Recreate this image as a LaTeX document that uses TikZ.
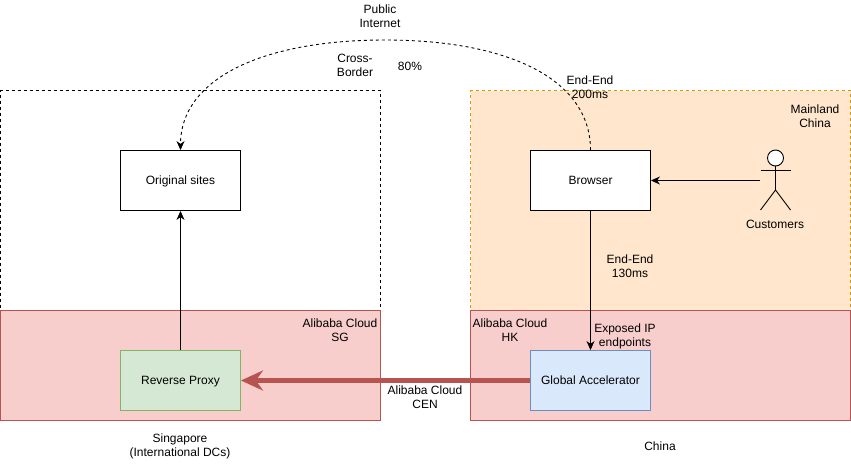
\documentclass[tikz,border=0pt]{standalone}
\usepackage{fontspec}
\setmainfont{Liberation Sans}
\usetikzlibrary{arrows.meta,positioning}
\definecolor{orangefill}{HTML}{FFE6CC}
\definecolor{orangeline}{HTML}{D79B00}
\definecolor{redfill}{HTML}{F8CECC}
\definecolor{redline}{HTML}{B85450}
\definecolor{greenfill}{HTML}{D5E8D4}
\definecolor{greenline}{HTML}{82B366}
\definecolor{bluefill}{HTML}{DAE8FC}
\definecolor{blueline}{HTML}{6C8EBF}
\tikzset{
  zone/.style={anchor=north west, inner sep=0pt, outer sep=0pt, line width=0.8pt},
  box/.style={draw=black, fill=white, line width=0.9pt, minimum width=120pt, minimum height=60pt, inner sep=0pt, text height=8.6pt, text depth=0pt, font=\fontsize{12}{14}\selectfont},
  txt/.style={align=center, inner sep=0pt, yshift=-0.8pt, font=\fontsize{12}{14}\selectfont},
  link/.style={-{Stealth[length=9pt,width=8pt]}, line width=0.9pt}
}
\begin{document}
\begin{tikzpicture}[x=1pt,y=-1pt]
\useasboundingbox (0,0) rectangle (851,471);
%draw the zones
\node[zone, draw=black, dashed, minimum width=380pt, minimum height=220pt] (overseas) at (0.5,90.5) {};
\node[zone, draw=orangeline, fill=orangefill, dashed, minimum width=380pt, minimum height=220pt] (mainland) at (470.5,90.5) {};
\node[zone, draw=redline, fill=redfill, minimum width=380pt, minimum height=110pt] (sg) at (0.5,310.5) {};
\node[zone, draw=redline, fill=redfill, minimum width=380pt, minimum height=110pt] (hk) at (470.5,310.5) {};

%draw the boxes
\node[box] (sites) at (180.5,180.5) {Original sites};
\node[box] (browser) at (590.5,180.5) {Browser};
\node[box, draw=greenline, fill=greenfill] (proxy) at (180.5,380.5) {Reverse Proxy};
\node[box, draw=blueline, fill=bluefill] (accel) at (590.5,380.5) {Global Accelerator};

%draw the customer
\node[minimum width=30pt, minimum height=60pt, inner sep=0pt] (customer) at (775.5,180.5) {};
\draw[line width=0.9pt, fill=white] (775.5,158) circle (8pt);
\draw[line width=0.9pt] (775.5,166) -- (775.5,190) (760.5,170) -- (790.5,170);
\draw[line width=0.9pt] (760.5,210) -- (775.5,190) -- (790.5,210);

%draw the links
\draw[link] (customer) -- (browser);
\draw[link] (browser) -- (accel);
\draw[link] (proxy) -- (sites);
\draw[-{Stealth[length=22pt,width=20pt]}, line width=5pt, redline] (accel) -- (proxy);
\draw[link, dashed] (browser.north) .. controls (590.5,80) and (510,40) .. (385,40) .. controls (260,40) and (180.5,80) .. (sites.north);

%draw the labels
\node[txt] (internet) at (380,15) {Public\\Internet};
\node[txt] (border) at (355,65) {Cross-\\Border};
\node[txt] (share) at (410,66) {80\%};
\node[txt] (slow) at (590,86) {End-End\\200ms};
\node[txt] (china) at (815,115) {Mainland\\China};
\node[txt] (buyers) at (775,223.5) {Customers};
\node[txt] (fast) at (630,265) {End-End\\130ms};
\node[txt] (sgcloud) at (340,329) {Alibaba Cloud\\SG};
\node[txt] (hkcloud) at (510,329) {Alibaba Cloud\\HK};
\node[txt] (exposed) at (625,336) {Exposed IP\\endpoints};
\node[txt] (cen) at (425,396) {Alibaba Cloud\\CEN};
\node[txt] (singapore) at (180,446) {Singapore\\(International DCs)};
\node[txt] (prc) at (660,445.5) {China};
\end{tikzpicture}
\end{document}
